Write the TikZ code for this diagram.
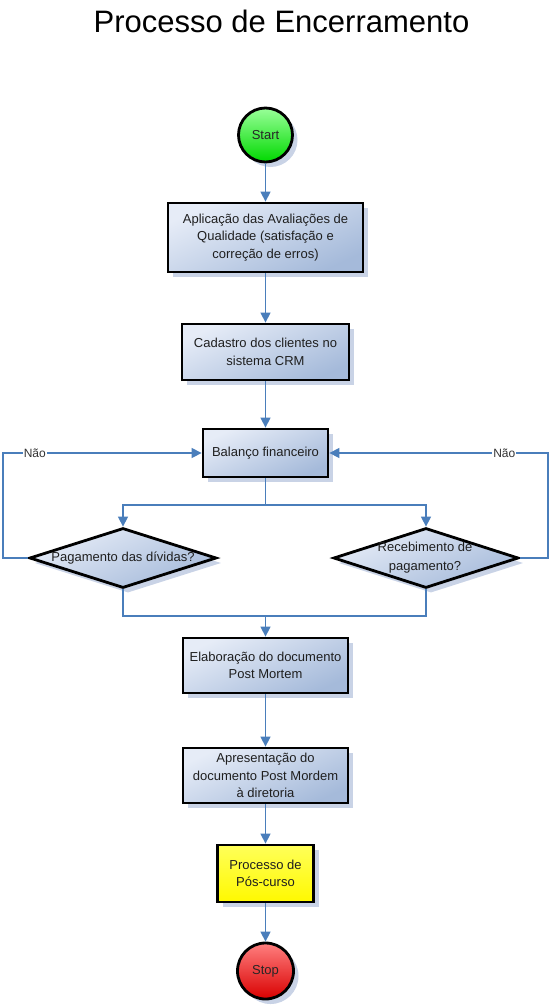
\documentclass[tikz,border=0pt]{standalone}
\usepackage{fontspec}
\setmainfont{Liberation Sans}
\usetikzlibrary{shapes.geometric,shadows,arrows.meta}
\definecolor{conn}{HTML}{4A7EBB}
\definecolor{boxlight}{HTML}{E6ECF7}
\definecolor{boxdark}{HTML}{A5BADA}
\definecolor{shadowc}{HTML}{C9D3E6}
\tikzset{
  stepbox/.style={draw=black, line width=2.8pt, rectangle, inner sep=0pt,
    top color=boxlight, bottom color=boxdark, shading angle=25,
    drop shadow={shadow xshift=5pt, shadow yshift=-5pt, fill=shadowc, opacity=1},
    align=center, font=\fontsize{13}{17.5}\selectfont, text=black!88},
  decbox/.style={draw=black, line width=2.8pt, diamond, inner sep=0pt,
    top color=boxlight, bottom color=boxdark, shading angle=25,
    drop shadow={shadow xshift=5pt, shadow yshift=-5pt, fill=shadowc, opacity=1}},
  dectext/.style={align=center, font=\fontsize{13}{19}\selectfont, text=black!88},
  term/.style={draw=black, line width=2.8pt, circle, inner sep=0pt,
    drop shadow={shadow xshift=5pt, shadow yshift=-5pt, fill=shadowc, opacity=1},
    font=\fontsize{13}{15}\selectfont, text=black!85},
  link/.style={draw=conn, line width=1.4pt, -{Triangle[length=10pt,width=10pt]}},
  plain/.style={draw=conn, line width=1.4pt},
  lab/.style={fill=white, inner sep=1pt, font=\fontsize{12}{14}\selectfont, text=black!80}
}
\begin{document}
\begin{tikzpicture}[x=1pt,y=-1pt]
\useasboundingbox (0,0) rectangle (550,1007);
\node (title) at (281.5,21) {\fontsize{31}{36}\selectfont Processo de Encerramento};

\node[term, minimum size=54pt, top color=green!40!white, bottom color=green!85!black] (start) at (265.5,135) {Start};
\node[stepbox, minimum width=195pt, minimum height=69pt] (b1) at (265.5,237.5) {Aplicação das Avaliações de\\Qualidade (satisfação e\\correção de erros)};
\node[stepbox, minimum width=167pt, minimum height=56pt] (b2) at (265.5,352) {Cadastro dos clientes no\\sistema CRM};
\node[stepbox, minimum width=125pt, minimum height=48pt] (b3) at (265.5,453) {Balanço financeiro};
\node[decbox, minimum width=187pt, minimum height=60pt] (dl) at (123,558) {};
\node[dectext] (dlt) at (123,558) {Pagamento das dívidas?};
\node[decbox, minimum width=185pt, minimum height=60pt] (dr) at (426,558) {};
\node[dectext] (drt) at (425,558) {Recebimento de\\pagamento?};
\node[stepbox, minimum width=165pt, minimum height=55pt] (b4) at (265.5,665.5) {Elaboração do documento\\Post Mortem};
\node[stepbox, minimum width=165pt, minimum height=55pt] (b5) at (265.5,775.5) {Apresentação do\\documento Post Mordem\\à diretoria};
\node[stepbox, minimum width=96pt, minimum height=57pt, top color=yellow!65!white, bottom color=yellow!95!orange] (b6) at (265.5,873.5) {Processo de\\Pós-curso};
\node[term, minimum size=56pt, top color=red!50!white, bottom color=red!85!black] (stop) at (265.5,971) {Stop};

\coordinate (split) at (265.5,505);
\coordinate (merge) at (265.5,616);
\coordinate (lc) at (3,453);
\coordinate (rc) at (548,453);

\draw[link] (start) -- (b1);
\draw[link] (b1) -- (b2);
\draw[link] (b2) -- (b3);
\draw[plain] (b3.south) -- (split);
\draw[link] (split) -| (dl.north);
\draw[link] (split) -| (dr.north);
\draw[link] (dl.west) -| (lc) -- node[lab, pos=0.16] {Não} (b3.west);
\draw[link] (dr.east) -| (rc) -- node[lab, pos=0.2] {Não} (b3.east);
\draw[plain] (dl.south) |- (merge);
\draw[plain] (dr.south) |- (merge);
\draw[link] (merge) -- (b4.north);
\draw[link] (b4) -- (b5);
\draw[link] (b5) -- (b6);
\draw[link] (b6) -- (stop);
\end{tikzpicture}
\end{document}
